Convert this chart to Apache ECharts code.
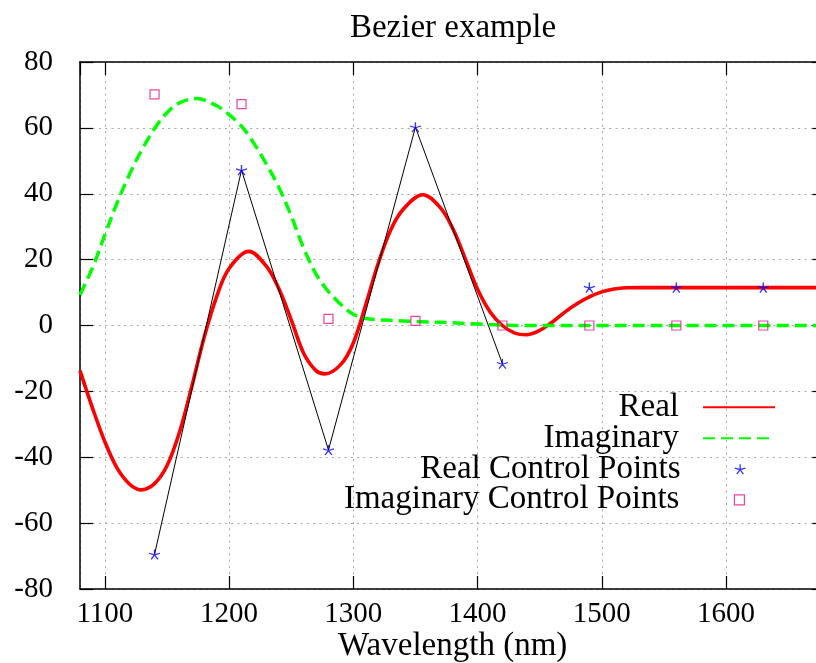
<!DOCTYPE html>
<html>
<head>
<meta charset="utf-8">
<title>Bezier example</title>
<script src="https://cdn.jsdelivr.net/npm/echarts@6/dist/echarts.min.js"></script>
<style>
  html, body { margin: 0; padding: 0; background: #fff; }
  #chart { width: 816px; height: 663px; }
</style>
</head>
<body>
<div id="chart"></div>
<script>
// Control point positions (wavelength, nm)
const ctrlX = [1140, 1210, 1280, 1350, 1420, 1490, 1560, 1630];
const realCtrlY = [-69.5, 47.2, -37.8, 60.2, -11.6, 11.5, 11.5, 11.5];
const imagCtrlY = [70.2, 67.2, 2.0, 1.4, 0, 0, 0, 0];
// number of real control points joined by the thin polygon
const polygonCount = 5;

// Real part of the curve
const realX = [1080, 1090, 1100, 1110, 1120, 1129, 1140, 1150, 1160, 1170,
  1180, 1190, 1200, 1216, 1230, 1240, 1250, 1260, 1270,
  1277, 1290, 1300, 1310, 1320, 1330, 1340, 1356, 1370,
  1380, 1390, 1400, 1410, 1420, 1430, 1439, 1450, 1460, 1470,
  1480, 1490, 1500, 1510, 1520, 1530, 1560, 1600, 1640, 1680];
const realY = [-13.7, -25.0, -35.3, -43.4, -48.2, -49.9, -48.0, -42.6, -32.5, -18.5,
  -3.5, 8.8, 17.3, 22.5, 18.0, 11.2, 1.7, -8.4, -13.7,
  -14.7, -11.8, -5.3, 6.3, 18.8, 28.9, 35.2, 39.7, 35.8,
  29.5, 20.4, 11.0, 4.2, 0.0, -2.3, -2.8, -1.5, 1.0, 4.0,
  6.6, 8.7, 10.2, 11.1, 11.45, 11.5, 11.5, 11.5, 11.5, 11.5];

// Imaginary part of the curve
const imagX = [1080, 1090, 1100, 1110, 1120, 1130, 1140, 1150, 1160, 1174,
  1190, 1200, 1210, 1220, 1230, 1240, 1250, 1260, 1270,
  1280, 1290, 1300, 1310, 1320, 1340, 1360, 1380, 1400, 1420,
  1440, 1500, 1560, 1620, 1680];
const imagY = [9.3, 17.5, 27.5, 37.4, 46, 53.5, 59.8, 64.6, 67.6, 68.9,
  66.7, 64, 60.5, 55.3, 49, 42, 33.3, 23.5, 15.6,
  10.3, 6.4, 3.4, 2.1, 1.75, 1.4, 1.1, 0.8, 0.45, 0.1,
  0, 0, 0, 0, 0];

const zip = (xs, ys) => xs.map((x, i) => [x, ys[i]]);

const SERIF = '"Liberation Serif", "DejaVu Serif", serif';
const gridLine = { show: true, lineStyle: { color: '#a8a8a8', width: 1, type: [2, 4.3] } };
const border = { show: true, onZero: false, lineStyle: { color: '#000', width: 1.5 } };
const tick = { show: true, inside: true, length: 13, lineStyle: { color: '#000', width: 1.2 } };
const tickFont = { fontFamily: SERIF, fontSize: 29, color: '#000', formatter: v => String(v) };

// asterisk marker: five strokes from the centre
const starPath = 'path://M0,0L0,-10M0,0L9.51,-3.09M0,0L5.88,8.09M0,0L-5.88,8.09M0,0L-9.51,-3.09';
const blue = '#0000ff';
const pink = '#e6158c';

function legendEntry(name, top, right, w, h, pad, extra) {
  return Object.assign({
    orient: 'vertical', align: 'right', padding: 0,
    top: top, right: right, itemWidth: w, itemHeight: h,
    data: [name], selectedMode: false,
    formatter: '{t|{name}}',
    textStyle: {
      fontFamily: SERIF, fontSize: 33, color: '#000',
      rich: { t: { fontFamily: SERIF, fontSize: 33, lineHeight: 30, padding: [0, pad, 0, 0] } }
    }
  }, extra);
}

const chart = echarts.init(document.getElementById('chart'), null, { renderer: 'canvas' });
chart.setOption({
  animation: false,
  backgroundColor: '#fff',
  title: {
    text: 'Bezier example', left: 453, top: 12, padding: 0, textAlign: 'center',
    textStyle: { fontFamily: SERIF, fontSize: 33, fontWeight: 'normal', color: '#000' }
  },
  grid: { left: 80, right: -9.4, top: 62, bottom: 74, containLabel: false, outerBoundsMode: 'none' },
  xAxis: [
    {
      type: 'value', min: 1080, max: 1680, splitNumber: 6, position: 'bottom',
      axisLine: border, axisTick: tick, splitLine: gridLine,
      axisLabel: Object.assign({ margin: 11, showMinLabel: false, showMaxLabel: false }, tickFont),
      name: 'Wavelength (nm)', nameLocation: 'middle', nameGap: 41, nameMoveOverlap: false,
      nameTextStyle: { fontFamily: SERIF, fontSize: 33, color: '#000' }
    },
    {
      type: 'value', min: 1080, max: 1680, splitNumber: 6, position: 'top',
      axisLine: border, axisTick: tick, splitLine: { show: false }, axisLabel: { show: false }
    }
  ],
  yAxis: [
    {
      type: 'value', min: -80, max: 80, interval: 20, position: 'left',
      axisLine: border, axisTick: tick, splitLine: gridLine,
      axisLabel: Object.assign({ margin: 27 }, tickFont)
    },
    {
      type: 'value', min: -80, max: 80, interval: 20, position: 'right',
      axisLine: border, axisTick: tick, splitLine: { show: false }, axisLabel: { show: false }
    }
  ],
  legend: [
    legendEntry('Real', 390.7, 40, 72, 14, 19, { itemStyle: { opacity: 0 } }),
    legendEntry('Imaginary', 421.7, 40, 72, 14, 19, { itemStyle: { opacity: 0 } }),
    legendEntry('Real Control Points', 452.7, 70, 11, 10, 49,
      { itemStyle: { color: 'rgba(0,0,0,0)', borderColor: blue, borderWidth: 1.3 } }),
    legendEntry('Imaginary Control Points', 483.3, 71, 10, 10, 50,
      { itemStyle: { color: 'rgba(0,0,0,0)', borderColor: pink, borderWidth: 1.2 } })
  ],
  series: [
    {
      name: 'Real', type: 'line', data: zip(realX, realY),
      symbol: 'none', showSymbol: false, smooth: 0.35,
      lineStyle: { color: '#ff0000', width: 3.6 }, itemStyle: { color: '#ff0000' }, z: 2
    },
    {
      name: 'Imaginary', type: 'line', data: zip(imagX, imagY),
      symbol: 'none', showSymbol: false, smooth: 0.35,
      lineStyle: { color: '#00ff00', width: 3.5, type: [12, 6] }, itemStyle: { color: '#00ff00' }, z: 3
    },
    {
      type: 'line', data: zip(ctrlX, realCtrlY).slice(0, polygonCount), symbol: 'none', silent: true,
      lineStyle: { color: '#000', width: 1 }, z: 4
    },
    {
      name: 'Real Control Points', type: 'scatter', data: zip(ctrlX, realCtrlY),
      symbol: starPath, symbolSize: [11, 10],
      itemStyle: { color: 'rgba(0,0,0,0)', borderColor: blue, borderWidth: 1.3 }, z: 5
    },
    {
      name: 'Imaginary Control Points', type: 'scatter', data: zip(ctrlX, imagCtrlY),
      symbol: 'rect', symbolSize: 9,
      itemStyle: { color: 'rgba(0,0,0,0)', borderColor: pink, borderWidth: 1.2 }, z: 5
    }
  ]
});
</script>
</body>
</html>
